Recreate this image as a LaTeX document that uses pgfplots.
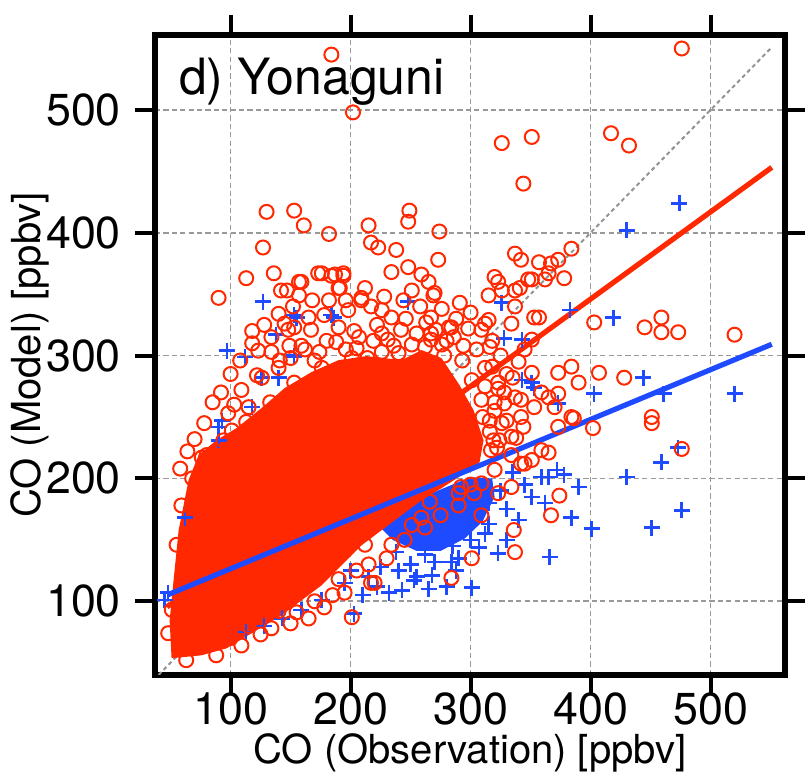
\documentclass[border=0pt]{standalone}
\usepackage{fontspec}
\setmainfont{TeX Gyre Heros}
\usepackage{pgfplots}
\pgfplotsset{compat=1.18}
\definecolor{myred}{RGB}{255,40,0}
\definecolor{myblue}{RGB}{30,75,255}
\begin{document}
\begin{tikzpicture}
\begin{axis}[
 scale only axis, width=157.5pt, height=160pt,
 xmin=37, xmax=562, ymin=40, ymax=561,
 xtick={100,200,300,400,500}, ytick={100,200,300,400,500},
 tick align=outside, major tick length=5pt,
 xticklabel pos=lower, yticklabel pos=left,
 xtick pos=both, ytick pos=both,
 every tick/.style={black, line width=1pt},
 axis line style={line width=1.4pt},
 grid=major, major grid style={gray!80, line width=0.45pt, dash pattern=on 1.3pt off 0.8pt},
 tick label style={font=\fontsize{11.2}{12}\selectfont},
 xticklabel style={yshift=4pt},
 /pgf/number format/assume math mode=true,
 label style={font=\fontsize{10.8}{12}\selectfont},
 xlabel={CO (Observation) [ppbv]},
 ylabel={CO (Model) [ppbv]},
 every axis x label/.style={at={(axis description cs:0.5,-0.122)}, anchor=center},
 every axis y label/.style={at={(axis description cs:-0.198,0.5)}, anchor=center, rotate=90},
 clip=true,
]
\node[anchor=north west, font=\fontsize{12.5}{13}\selectfont, inner sep=0pt] at (rel axis cs:0.037,0.965) {d) Yonaguni};
% 1:1 line
\addplot[gray!85, dash pattern=on 1pt off 0.8pt, line width=0.5pt] coordinates {(40,40) (551,551)};
% blue dense core
\addplot[fill=myblue, draw=none] coordinates {
(235,150) (255,141) (275,141) (295,151) (310,165) (320,185) (318,200) (300,201) (280,193) (260,185) (240,172) (225,160)
} -- cycle;
% blue pluses
\addplot[only marks, mark=+, mark size=2pt, mark options={myblue, line width=0.65pt}] table {
474 424
430 402
419 331
383 337
326 343
444 282
520 269
403 269
373 261
328 314
343 313
343 280
351 278
461 269
473 225
459 213
430 201
390 193
476 174
451 160
401 159
384 168
366 136
378 203
365 201
372 207
301 111
284 132
323 139
307 144
359 201
351 185
362 180
340 166
315 163
253 117
232 107
203 90
153 333
184 333
153 300
248 344
353 274
127 344
155 331
186 331
138 317
97 304
112 299
153 299
126 282
140 282
118 258
93 247
90 231
62 168
48 107
45 101
90 242
176 101
159 93
143 86
128 80
113 75
243 109
268 121
288 125
330 150
200 125
215 120
225 128
238 140
250 130
262 138
275 150
285 145
295 160
305 175
315 180
325 190
330 175
240 125
255 120
270 132
290 135
300 150
312 155
222 112
210 105
195 115
335 205
345 195
280 112
265 110
};
% red dense core
\addplot[fill=myred, draw=none] coordinates {
(50.8,53.6) (49.2,84.5) (52.5,117.1) (56.7,157.8) (65.0,198.6) (73.3,218.9) (88.3,231.2) (105.0,241.0) (125.8,257.3) (145.0,273.5) (167.5,286.6) (190.0,296.3) (213.3,299.6) (242.5,296.3) (259.2,304.5) (275.8,297.9) (290.8,275.9) (302.5,255.5) (310.8,231.1) (307.5,213.2) (292.5,202.6) (275.8,192.1) (259.2,182.3) (242.5,170.1) (225.8,157.8) (209.2,145.6) (192.5,129.3) (175.8,113.0) (159.2,100.8) (142.5,88.6) (121.7,76.4) (96.7,61.7) (75.8,56.0)
} -- cycle;
% red circles
\addplot[only marks, mark=o, mark size=1.75pt, mark options={myred, line width=0.5pt}] table {
184 545
202 498
476 550
326 473
351 478
344 440
417 481
432 471
130 417
153 418
161 406
182 399
127 388
215 406
217 392
223 388
238 386
249 418
248 409
274 401
273 378
337 383
342 378
357 376
384 387
270 351
291 343
373 378
320 364
323 360
341 355
351 362
365 367
378 363
315 349
337 340
357 331
267 331
267 313
284 323
312 326
334 326
351 313
316 307
403 327
445 323
459 331
459 319
473 319
520 317
407 286
428 282
384 291
373 286
390 278
351 286
323 273
373 269
370 258
384 250
451 250
342 264
359 270
476 224
451 245
402 241
367 170
374 186
365 221
386 249
373 242
345 212
351 215
334 193
323 188
336 158
309 170
301 135
337 140
284 119
303 188
290 188
317 223
338 233
328 261
344 242
266 181
251 162
259 168
234 146
212 146
217 115
195 107
176 367
187 366
194 367
190 355
159 360
147 353
157 349
234 368
248 372
259 366
265 360
269 349
251 353
209 347
217 340
226 337
234 331
198 337
178 333
165 331
148 321
167 321
190 323
207 315
226 318
242 321
267 318
282 323
309 321
315 329
367 375
348 362
362 362
326 353
337 353
353 331
318 291
323 278
337 266
320 255
342 250
353 258
365 266
334 234
342 212
320 207
359 223
292 193
309 196
90 347
113 363
136 367
142 353
157 360
173 367
184 365
194 365
191 355
209 345
98 253
101 239
76 217
118 310
123 304
134 315
145 326
153 323
126 282
115 258
51 93
48 74
165 86
201 87
220 115
55 146
59 178
68 200
80 219
94 231
113 246
133 262
153 278
176 290
201 298
226 303
251 309
276 309
293 296
301 280
309 264
316 247
319 231
63 52
88 56
109 64
134 78
155 91
159 308
174 303
188 311
205 306
219 312
236 308
263 327
280 312
294 308
141 296
122 284
109 272
103 260
149 308
134 303
330 247
324 231
334 219
140 290
150 298
162 305
170 296
180 312
196 305
203 320
214 298
222 325
231 313
240 302
246 330
255 318
262 307
271 321
278 300
286 315
298 322
305 305
312 290
318 312
325 300
330 285
300 335
288 330
276 338
258 340
244 345
228 348
212 355
196 345
182 345
168 345
152 340
140 334
128 325
118 320
108 296
100 285
92 270
85 262
78 245
70 232
64 222
58 208
312 275
320 262
326 245
328 270
335 282
340 295
345 305
310 250
316 238
322 225
100 70
115 80
125 73
140 92
150 82
170 100
185 105
178 95
190 118
205 125
215 130
230 135
245 150
262 160
275 170
290 178
300 195
};
% regression lines
\addplot[myred, line width=1.3pt] coordinates {(47,95.4) (551,453.2)};
\addplot[myblue, line width=1.3pt] coordinates {(48,105.4) (551,309.2)};
\end{axis}
\pgfresetboundingbox
\path ([xshift=-38.75pt,yshift=-25.5pt]current axis.south west) rectangle ([xshift=6.25pt,yshift=8.75pt]current axis.north east);
\end{tikzpicture}
\end{document}
